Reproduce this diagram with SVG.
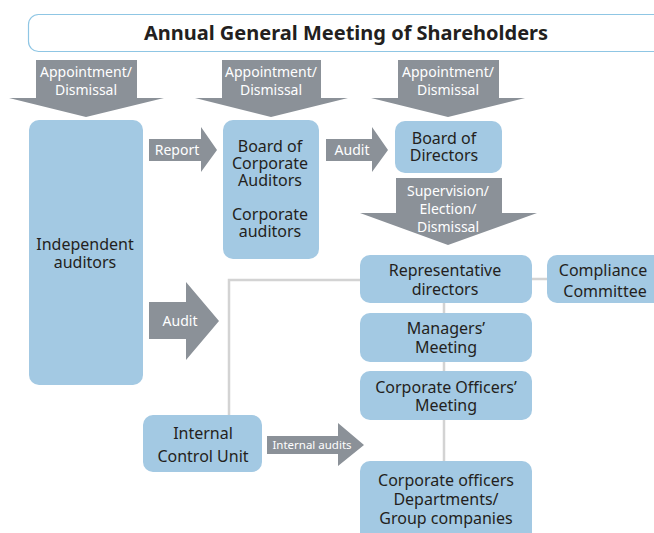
<svg xmlns="http://www.w3.org/2000/svg" width="654" height="533" viewBox="0 0 654 533">
<style>
.node{fill:#a3c9e3}
.t{font-family:"Noto Sans","Open Sans",sans-serif;font-size:16px;fill:#231f20;text-anchor:middle}
.a{fill:#8b9198}
.w{font-family:"Noto Sans","Open Sans",sans-serif;font-size:14px;fill:#ffffff;text-anchor:middle}
.ws{font-size:11.5px}
.ln{stroke:#d3d3d3;stroke-width:2.5;fill:none}
</style>
<rect width="654" height="533" fill="#ffffff"/>
<g id="title">
<rect x="28.5" y="14.5" width="660" height="37" rx="10" fill="#ffffff" stroke="#8fc6e4" stroke-width="1.2"/>
<text x="346" y="40" font-family="Noto Sans, Open Sans, sans-serif" font-size="20" font-weight="bold" fill="#231f20" text-anchor="middle">Annual General Meeting of Shareholders</text>
</g>
<g id="connectors">
<polyline class="ln" points="360,280 229,280 229,415"/>
<line class="ln" x1="532" y1="279" x2="547" y2="279"/>
<line class="ln" x1="444" y1="303" x2="444" y2="461"/>
</g>
<g id="arrows">
<g id="arrow-appoint-1"><polygon class="a" points="36,60 137,60 137,98 164,98 86,117 9,98 36,98"/><text class="w" x="86" y="77">Appointment/</text><text class="w" x="86" y="95">Dismissal</text></g>
<g id="arrow-appoint-2"><polygon class="a" points="222,60 321,60 321,98 348,98 271,117 195,98 222,98"/><text class="w" x="271" y="77">Appointment/</text><text class="w" x="271" y="95">Dismissal</text></g>
<g id="arrow-appoint-3"><polygon class="a" points="398,60 499,60 499,98 525,98 448,117 371,98 398,98"/><text class="w" x="448" y="77">Appointment/</text><text class="w" x="448" y="95">Dismissal</text></g>
<g id="arrow-report"><polygon class="a" points="149,139 201,139 201,127 217,150 201,172 201,161 149,161"/><text class="w" x="177" y="155">Report</text></g>
<g id="arrow-audit-top"><polygon class="a" points="326,139 372,139 372,127 388,150 372,172 372,161 326,161"/><text class="w" x="352" y="155">Audit</text></g>
<g id="arrow-supervision"><polygon class="a" points="396,178 502,178 502,213 537,213 448,245 360,213 396,213"/><text class="w" x="448" y="196">Supervision/</text><text class="w" x="448" y="214">Election/</text><text class="w" x="448" y="232">Dismissal</text></g>
<g id="arrow-audit-mid"><polygon class="a" points="149,302 186,302 186,282 219,321 186,360 186,339 149,339"/><text class="w" x="180" y="326">Audit</text></g>
<g id="arrow-internal"><polygon class="a" points="267,436 338,436 338,423 364,445 338,466 338,454 267,454"/><text class="w ws" x="312" y="449">Internal audits</text></g>
</g>
<g id="independent-auditors"><rect class="node" x="29" y="120" width="114" height="265" rx="10"/><text class="t" x="85" y="250">Independent</text><text class="t" x="85" y="268">auditors</text></g>
<g id="board-corporate-auditors"><rect class="node" x="223" y="120" width="96" height="139" rx="10"/><text class="t" x="270" y="152">Board of</text><text class="t" x="270" y="169">Corporate</text><text class="t" x="270" y="186">Auditors</text><text class="t" x="270" y="220">Corporate</text><text class="t" x="270" y="237">auditors</text></g>
<g id="board-directors"><rect class="node" x="395" y="121" width="107" height="52" rx="10"/><text class="t" x="444" y="144">Board of</text><text class="t" x="444" y="161">Directors</text></g>
<g id="representative-directors"><rect class="node" x="360" y="255" width="172" height="48" rx="10"/><text class="t" x="445" y="276">Representative</text><text class="t" x="445" y="295">directors</text></g>
<g id="compliance-committee"><rect class="node" x="547" y="255" width="130" height="48" rx="10"/><text class="t" x="603" y="276">Compliance</text><text class="t" x="605" y="297">Committee</text></g>
<g id="managers-meeting"><rect class="node" x="360" y="313" width="172" height="49" rx="10"/><text class="t" x="446" y="334">Managers’</text><text class="t" x="446" y="353">Meeting</text></g>
<g id="corporate-officers-meeting"><rect class="node" x="360" y="371" width="172" height="49" rx="10"/><text class="t" x="446" y="393">Corporate Officers’</text><text class="t" x="446" y="411">Meeting</text></g>
<g id="internal-control-unit"><rect class="node" x="143" y="415" width="119" height="57" rx="10"/><text class="t" x="203" y="439">Internal</text><text class="t" x="203" y="462">Control Unit</text></g>
<g id="corporate-officers-depts"><rect class="node" x="360" y="461" width="172" height="85" rx="10"/><text class="t" x="446" y="486">Corporate officers</text><text class="t" x="446" y="505">Departments/</text><text class="t" x="446" y="524">Group companies</text></g>
</svg>
